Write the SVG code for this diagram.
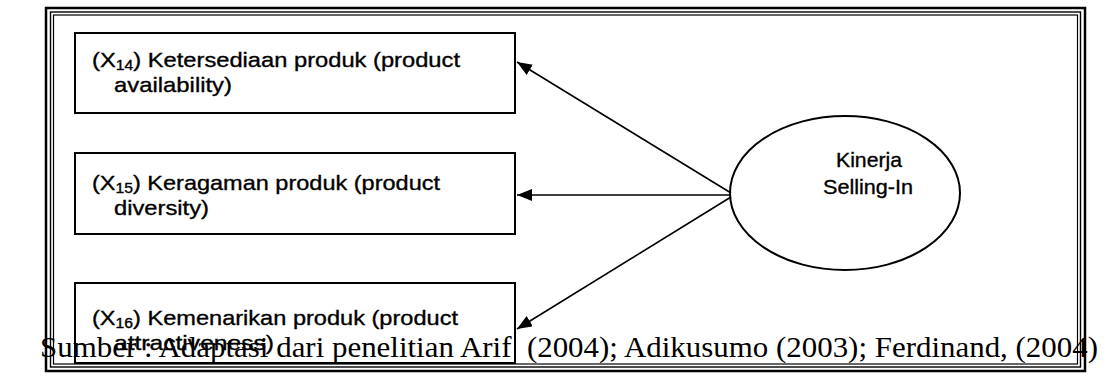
<svg xmlns="http://www.w3.org/2000/svg" width="1116" height="387" viewBox="0 0 1116 387">
<style>
.box{fill:none;stroke:#000;stroke-width:2}
.lbl{font-family:"Liberation Sans Narrow","Liberation Sans",Arial,sans-serif;font-size:21px;fill:#000;stroke:#000;stroke-width:0.35}
.sub{font-size:14px}
.conn{stroke:#000;stroke-width:1.6;fill:none;marker-end:url(#ah)}
.src{font-family:"Liberation Serif","Times New Roman",serif;font-size:30px;fill:#000}
</style>
<defs>
<marker id="ah" markerUnits="userSpaceOnUse" markerWidth="16" markerHeight="12" refX="15" refY="6" orient="auto">
<path d="M0,0 L15,6 L0,12 Z" fill="#000"/>
</marker>
</defs>
<g id="frame" fill="none" stroke="#000">
<rect x="46" y="8" width="1039" height="363" stroke-width="2.5"/>
<rect x="50.5" y="12" width="1030" height="355" stroke-width="1.4"/>
<rect x="53.5" y="15" width="1024" height="349" stroke-width="1.2"/>
</g>
<g id="connectors">
<line class="conn" x1="731" y1="193" x2="517" y2="62"/>
<line class="conn" x1="731" y1="195" x2="517" y2="195"/>
<line class="conn" x1="731" y1="197" x2="517" y2="329"/>
</g>
<g id="x14">
<rect class="box" x="75" y="33" width="440" height="80"/>
<text class="lbl" x="92" y="67" textLength="368" lengthAdjust="spacingAndGlyphs">(X<tspan class="sub" dy="3">14</tspan><tspan dy="-3">) Ketersediaan produk (product</tspan></text>
<text class="lbl" x="114" y="92" textLength="118" lengthAdjust="spacingAndGlyphs">availability)</text>
</g>
<g id="x15">
<rect class="box" x="75" y="153" width="440" height="81"/>
<text class="lbl" x="92" y="190" textLength="348" lengthAdjust="spacingAndGlyphs">(X<tspan class="sub" dy="3">15</tspan><tspan dy="-3">) Keragaman produk (product</tspan></text>
<text class="lbl" x="114" y="215" textLength="95" lengthAdjust="spacingAndGlyphs">diversity)</text>
</g>
<g id="x16">
<rect class="box" x="75" y="283" width="440" height="80"/>
<text class="lbl" x="92" y="325" textLength="366" lengthAdjust="spacingAndGlyphs">(X<tspan class="sub" dy="3">16</tspan><tspan dy="-3">) Kemenarikan produk (product</tspan></text>
<text class="lbl" x="114" y="350" textLength="160" lengthAdjust="spacingAndGlyphs">attractiveness)</text>
</g>
<g id="kinerja">
<ellipse cx="845" cy="193" rx="115" ry="77" fill="none" stroke="#000" stroke-width="2"/>
<text class="lbl" x="869" y="167" text-anchor="middle" textLength="66" lengthAdjust="spacingAndGlyphs">Kinerja</text>
<text class="lbl" x="868" y="194" text-anchor="middle" textLength="90" lengthAdjust="spacingAndGlyphs">Selling-In</text>
</g>
<text class="src" x="40" y="357" textLength="1058" lengthAdjust="spacingAndGlyphs" xml:space="preserve">Sumber : Adaptasi dari penelitian Arif  (2004); Adikusumo (2003); Ferdinand, (2004)</text>
</svg>
